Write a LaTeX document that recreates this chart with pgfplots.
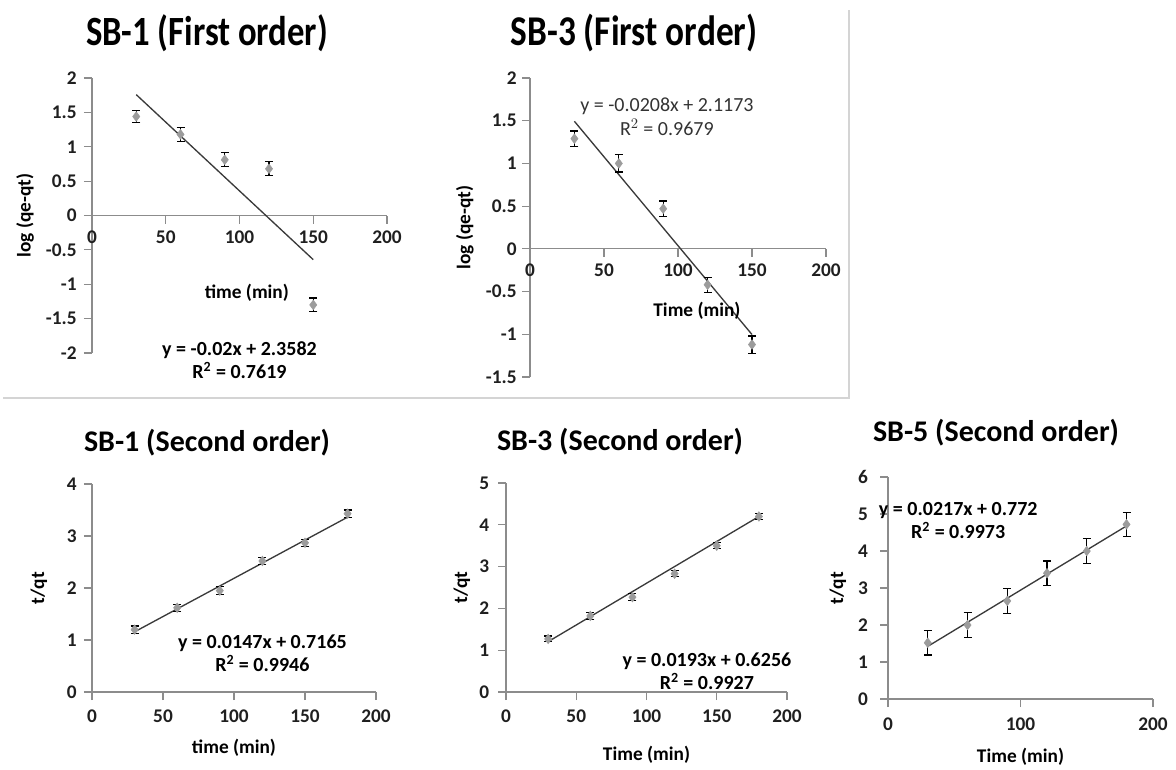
\documentclass[border=0pt]{standalone}
\usepackage{pgfplots}
\pgfplotsset{compat=1.18}
\usepackage{fontspec}
\setmainfont{Carlito}

\definecolor{axgray}{HTML}{8C8C8C}
\definecolor{mk}{HTML}{9C9C9C}
\definecolor{tl}{HTML}{3A3A3A}
\definecolor{frame}{HTML}{D4D4D4}

\pgfplotsset{
  kin/.style={
    scale only axis,
    anchor=south west,
    xmin=0, xmax=200,
    axis line style={axgray, line width=0.9pt, -},
    xtick style={draw=axgray, line width=0.9pt},
    ytick style={draw=axgray, line width=0.9pt},
    major tick length=6pt,
    tick label style={font=\bfseries\fontsize{14.5}{16}\selectfont, text=black!88},
    /pgf/number format/assume math mode=true,
    hide obscured x ticks=false,
    hide obscured y ticks=false,
    clip=false,
  },
  outt/.style={xtick align=outside, ytick align=outside},
  dat/.style={only marks, mark=diamond*, mark size=3.6pt,
    mark options={fill=mk, draw=mk},
    error bars/.cd, y dir=both, y explicit,
    error bar style={black, line width=0.8pt},
    error mark options={black, line width=0.8pt, mark size=3pt, rotate=90}},
  trend/.style={no marks, tl, line width=1pt},
}
\tikzset{
  lab/.style={font=\bfseries\fontsize{14.5}{16}\selectfont},
  eqb/.style={font=\bfseries\fontsize{15}{17}\selectfont, align=center},
}

\begin{document}
\begin{tikzpicture}
\path[use as bounding box] (0pt,0pt) rectangle (882pt,-576.75pt);
\draw[frame, line width=0.8pt] (636.75pt,-7.5pt) -- (636.75pt,-298.5pt) -- (2pt,-298.5pt);

% Titles
\node[font=\bfseries\fontsize{26}{30}\selectfont, yscale=1.2] at (155.25pt,-24.75pt) {SB-1 (First order)};
\node[font=\bfseries\fontsize{26.5}{30}\selectfont, yscale=1.2] at (475.5pt,-24.75pt) {SB-3 (First order)};
\node[font=\bfseries\fontsize{22.5}{26}\selectfont] at (155.25pt,-332.25pt) {SB-1 (Second order)};
\node[font=\bfseries\fontsize{22.5}{26}\selectfont] at (465pt,-331.5pt) {SB-3 (Second order)};
\node[font=\bfseries\fontsize{22.5}{26}\selectfont] at (747pt,-324.75pt) {SB-5 (Second order)};

% Panel 1: SB-1 first order
\begin{axis}[kin, at={(69pt,-264.75pt)}, width=221.25pt, height=206.25pt,
  ymin=-2, ymax=2, axis x line*=middle, axis y line*=left, outt,
  xticklabel style={yshift=-2pt}, yticklabel style={xshift=-2pt},
  xtick={0,50,100,150,200}, xticklabels={0,50,100,150,200},
  ytick={-2,-1.5,-1,-0.5,0,0.5,1,1.5,2},
  yticklabels={-2,-1.5,-1,-0.5,0,0.5,1,1.5,2}]
\addplot[trend] coordinates {(30,1.758) (150,-0.642)};
\addplot[dat] coordinates {
  (30,1.44) +- (0,0.09)
  (60,1.18) +- (0,0.10)
  (90,0.81) +- (0,0.10)
  (120,0.68) +- (0,0.10)
  (150,-1.30) +- (0,0.10)
};
\node[lab] at (105,-1.13) {time (min)};
\node[lab, rotate=90] at (rel axis cs:-0.227,0.5) {log (qe-qt)};
\node[eqb] at (100,-2.1) {y = -0.02x + 2.3582\\R$^{\mathbf 2}$ = 0.7619};
\end{axis}

% Panel 2: SB-3 first order
\begin{axis}[kin, at={(397.5pt,-282.75pt)}, width=222pt, height=224.25pt,
  ymin=-1.5, ymax=2, axis x line*=middle, axis y line*=left, outt,
  xticklabel style={yshift=-2pt}, yticklabel style={xshift=-0.5pt},
  xtick={0,50,100,150,200}, xticklabels={0,50,100,150,200},
  ytick={-1.5,-1,-0.5,0,0.5,1,1.5,2},
  yticklabels={-1.5,-1,-0.5,0,0.5,1,1.5,2}]
\addplot[trend] coordinates {(30,1.4933) (150,-1.0027)};
\addplot[dat] coordinates {
  (30,1.29) +- (0,0.09)
  (60,1.00) +- (0,0.10)
  (90,0.47) +- (0,0.09)
  (120,-0.42) +- (0,0.09)
  (150,-1.12) +- (0,0.10)
};
\node[lab] at (112.8,-0.73) {Time (min)};
\node[lab, rotate=90] at (rel axis cs:-0.22,0.5) {log (qe-qt)};
\node[font=\fontsize{15}{18}\selectfont, text=black!80, align=center] at (92.5,1.55) {y = -0.0208x + 2.1173\\R$^2$ = 0.9679};
\end{axis}

% Panel 3: SB-1 second order
\begin{axis}[kin, at={(69pt,-519pt)}, width=213pt, height=156pt,
  ymin=0, ymax=4, axis x line*=bottom, axis y line*=left, outt,
  xticklabel style={yshift=-3.5pt}, yticklabel style={xshift=-2pt},
  xtick={0,50,100,150,200}, xticklabels={0,50,100,150,200},
  ytick={0,1,2,3,4}, yticklabels={0,1,2,3,4}]
\addplot[trend] coordinates {(30,1.1575) (180,3.3625)};
\addplot[dat] coordinates {
  (30,1.20) +- (0,0.07)
  (60,1.62) +- (0,0.07)
  (90,1.95) +- (0,0.08)
  (120,2.52) +- (0,0.07)
  (150,2.87) +- (0,0.07)
  (180,3.43) +- (0,0.07)
};
\node[lab] at (rel axis cs:0.5,-0.27) {time (min)};
\node[lab, rotate=90] at (rel axis cs:-0.187,0.5) {t/qt};
\node[eqb] at (120,0.74) {y = 0.0147x + 0.7165\\R$^{\mathbf 2}$ = 0.9946};
\end{axis}

% Panel 4: SB-3 second order
\begin{axis}[kin, at={(379.5pt,-519pt)}, width=210.75pt, height=156.75pt,
  ymin=0, ymax=5, axis x line*=bottom, axis y line*=left, outt,
  xticklabel style={yshift=-3.5pt}, yticklabel style={xshift=-3pt},
  xtick={0,50,100,150,200}, xticklabels={0,50,100,150,200},
  ytick={0,1,2,3,4,5}, yticklabels={0,1,2,3,4,5}]
\addplot[trend] coordinates {(30,1.2046) (180,4.1996)};
\addplot[dat] coordinates {
  (30,1.27) +- (0,0.07)
  (60,1.82) +- (0,0.08)
  (90,2.27) +- (0,0.08)
  (120,2.83) +- (0,0.07)
  (150,3.50) +- (0,0.07)
  (180,4.20) +- (0,0.08)
};
\node[lab] at (rel axis cs:0.5,-0.30) {Time (min)};
\node[lab, rotate=90] at (rel axis cs:-0.157,0.5) {t/qt};
\node[eqb] at (143,0.5) {y = 0.0193x + 0.6256\\R$^{\mathbf 2}$ = 0.9927};
\end{axis}

% Panel 5: SB-5 second order
\begin{axis}[kin, at={(666pt,-524.25pt)}, width=198.75pt, height=166.5pt,
  ymin=0, ymax=6, axis x line*=bottom, axis y line*=left, outt,
  xticklabel style={yshift=-4.5pt}, yticklabel style={xshift=-5.5pt},
  xtick={0,100,200}, xticklabels={0,100,200},
  ytick={0,1,2,3,4,5,6}, yticklabels={0,1,2,3,4,5,6}]
\addplot[trend] coordinates {(30,1.423) (180,4.678)};
\addplot[dat] coordinates {
  (30,1.52) +- (0,0.33)
  (60,2.00) +- (0,0.33)
  (90,2.65) +- (0,0.33)
  (120,3.40) +- (0,0.33)
  (150,4.00) +- (0,0.33)
  (180,4.72) +- (0,0.33)
};
\node[lab] at (rel axis cs:0.5,-0.26) {Time (min)};
\node[lab, rotate=90] at (rel axis cs:-0.189,0.5) {t/qt};
\node[eqb] at (53,4.83) {y = 0.0217x + 0.772\\R$^{\mathbf 2}$ = 0.9973};
\end{axis}
\end{tikzpicture}
\end{document}
